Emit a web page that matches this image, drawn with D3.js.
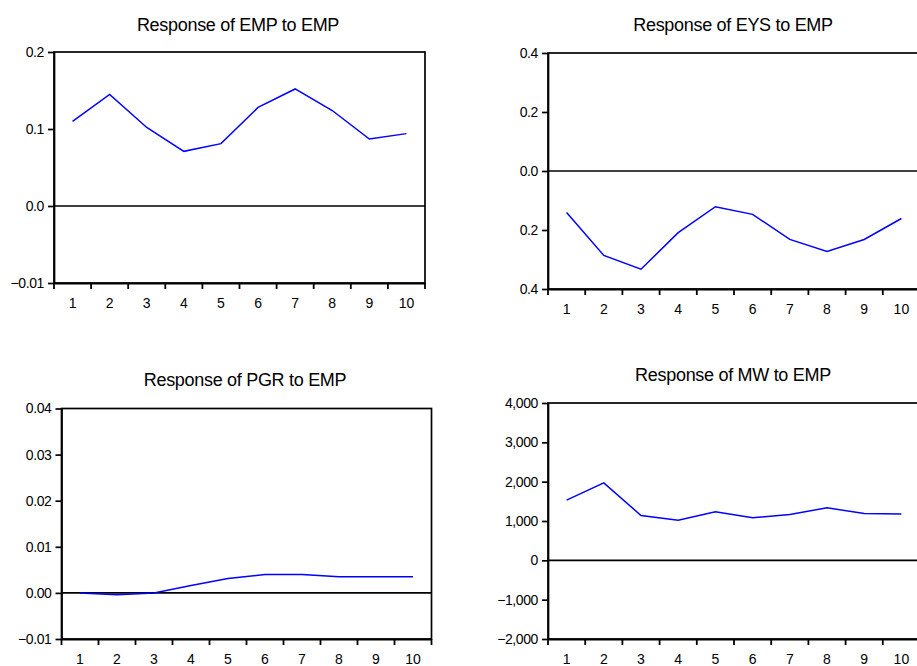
<!DOCTYPE html>
<html>
<head>
<meta charset="utf-8">
<script src="https://cdn.jsdelivr.net/npm/d3@7/dist/d3.min.js"></script>
<style>
  html, body { margin: 0; padding: 0; background: #fff; overflow: hidden; }
  svg { display: block; font-family: "Liberation Sans", Arial, sans-serif; }
</style>
</head>
<body>
<svg id="chart" width="917" height="666"></svg>
<script>
// ---- data ----
const periods = ["1","2","3","4","5","6","7","8","9","10"];

const empToEmp = [0.110, 0.145, 0.102, 0.071, 0.081, 0.128, 0.152, 0.124, 0.087, 0.094];
const eysToEmp = [-0.141, -0.286, -0.333, -0.209, -0.121, -0.147, -0.232, -0.273, -0.232, -0.161];
const pgrToEmp = [0.0, -0.0004, 0.0, 0.0016, 0.0031, 0.0040, 0.0040, 0.0035, 0.0035, 0.0035];
const mwToEmp  = [1530, 1970, 1140, 1020, 1235, 1080, 1165, 1335, 1190, 1180];

const empTicks = [-0.1, 0, 0.1, 0.2];
const empTickLabels = ["\u22120.01", "0.0", "0.1", "0.2"];
const eysTicks = [-0.4, -0.2, 0, 0.2, 0.4];
const eysTickLabels = ["0.4", "0.2", "0.0", "0.2", "0.4"];
const pgrTicks = [-0.01, 0, 0.01, 0.02, 0.03, 0.04];
const pgrTickLabels = ["\u22120.01", "0.00", "0.01", "0.02", "0.03", "0.04"];
const mwTicks = [-2000, -1000, 0, 1000, 2000, 3000, 4000];
const mwTickLabels = ["\u22122,000", "\u22121,000", "0", "1,000", "2,000", "3,000", "4,000"];

const titles = ["Response of EMP to EMP", "Response of EYS to EMP", "Response of PGR to EMP", "Response of MW to EMP"];

// ---- layout ----
const panels = [
  { title: titles[0], values: empToEmp, ticks: empTicks, labels: empTickLabels,
    left: 54, right: 425, top: 52, bottom: 283, titleX: 238, titleY: 31 },
  { title: titles[1], values: eysToEmp, ticks: eysTicks, labels: eysTickLabels,
    left: 548, right: 920, top: 53, bottom: 289, titleX: 733, titleY: 31 },
  { title: titles[2], values: pgrToEmp, ticks: pgrTicks, labels: pgrTickLabels,
    left: 61.5, right: 431.5, top: 408.5, bottom: 639, titleX: 245, titleY: 386 },
  { title: titles[3], values: mwToEmp, ticks: mwTicks, labels: mwTickLabels,
    left: 548, right: 920, top: 403, bottom: 639, titleX: 733, titleY: 381 }
];

const svg = d3.select("#chart");

panels.forEach(p => {
  const g = svg.append("g");
  const domain = d3.extent(p.ticks);
  const y = d3.scaleLinear().domain(domain).range([p.bottom, p.top]);
  const x = d3.scaleBand().domain(periods).range([p.left, p.right]).padding(0);

  // title
  g.append("text")
    .attr("x", p.titleX).attr("y", p.titleY)
    .attr("text-anchor", "middle")
    .attr("font-size", 18)
    .attr("letter-spacing", -0.3)
    .attr("fill", "#000")
    .text(p.title);

  // frame (top, left, right)
  g.append("rect")
    .attr("x", p.left).attr("y", p.top)
    .attr("width", p.right - p.left).attr("height", p.bottom - p.top)
    .attr("fill", "none").attr("stroke", "#000").attr("stroke-width", 1.7);

  // zero line
  g.append("line")
    .attr("x1", p.left).attr("x2", p.right)
    .attr("y1", y(0)).attr("y2", y(0))
    .attr("stroke", "#000").attr("stroke-width", 1.7);

  // y axis
  const yAxis = d3.axisLeft(y)
    .tickValues(p.ticks)
    .tickFormat((d, i) => p.labels[i])
    .tickSize(6).tickSizeOuter(0).tickPadding(4);
  const ya = g.append("g").attr("transform", `translate(${p.left},0)`).call(yAxis);
  ya.select(".domain").attr("stroke", "#000").attr("stroke-width", 1.7);
  ya.selectAll(".tick line").attr("stroke", "#000").attr("stroke-width", 1.7);
  ya.selectAll(".tick text").attr("font-size", 14).attr("fill", "#000")
    .attr("letter-spacing", -0.4)
    .attr("font-family", "\"Liberation Sans\", Arial, sans-serif");

  // x axis: band boundaries as tick marks, labels at band centers
  const xa = d3.axisBottom(x).tickSize(0).tickPadding(15);
  const xg = g.append("g").attr("transform", `translate(0,${p.bottom})`).call(xa);
  xg.select(".domain").attr("stroke", "#000").attr("stroke-width", 2);
  xg.selectAll(".tick text").attr("font-size", 14).attr("fill", "#000")
    .attr("font-family", "\"Liberation Sans\", Arial, sans-serif");
  const boundaries = periods.map(d => x(d)).concat([x(periods[periods.length - 1]) + x.bandwidth()]);
  g.append("g").selectAll("line").data(boundaries).join("line")
    .attr("x1", d => d).attr("x2", d => d)
    .attr("y1", p.bottom).attr("y2", p.bottom + 6)
    .attr("stroke", "#000").attr("stroke-width", 1.8);

  // response line
  const line = d3.line()
    .x((d, i) => x(periods[i]) + x.bandwidth() / 2)
    .y(d => y(d));
  g.append("path")
    .datum(p.values)
    .attr("d", line)
    .attr("fill", "none")
    .attr("stroke", "#0000ff")
    .attr("stroke-width", 1.5);
});
</script>
</body>
</html>
